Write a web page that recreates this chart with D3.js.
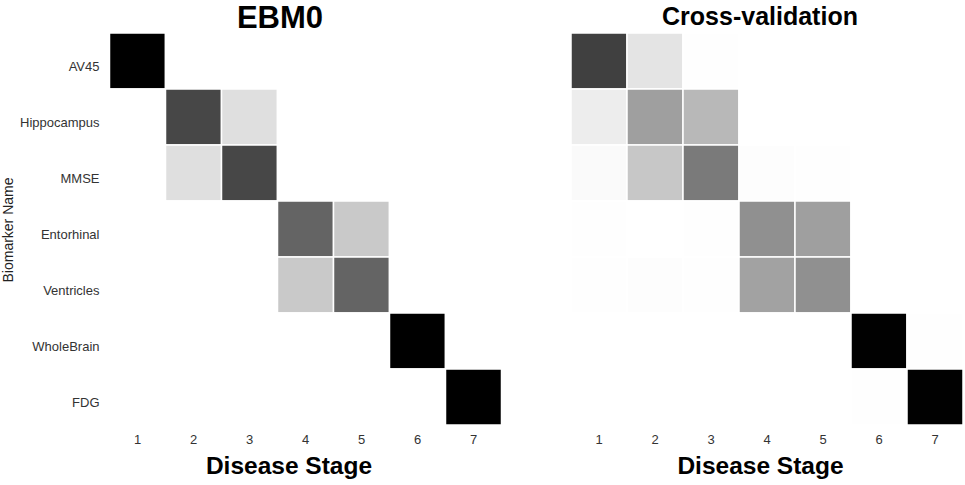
<!DOCTYPE html>
<html>
<head>
<meta charset="utf-8">
<script src="https://cdn.jsdelivr.net/npm/d3@7"></script>
<style>
  body { margin: 0; background: #fff; }
  svg { display: block; font-family: "Liberation Sans", Arial, sans-serif; }
</style>
</head>
<body>
<div id="chart"></div>
<script>
const biomarkers = ['AV45', 'Hippocampus', 'MMSE', 'Entorhinal', 'Ventricles', 'WholeBrain', 'FDG'];
const stages = [1, 2, 3, 4, 5, 6, 7];

// probability of each biomarker (row) being at each stage (column)
const ebm0 = [
  [1.00, 0, 0, 0, 0, 0, 0],
  [0, 0.78, 0.22, 0, 0, 0, 0],
  [0, 0.22, 0.78, 0, 0, 0, 0],
  [0, 0, 0, 0.68, 0.32, 0, 0],
  [0, 0, 0, 0.32, 0.68, 0, 0],
  [0, 0, 0, 0, 0, 1.00, 0],
  [0, 0, 0, 0, 0, 0, 1.00]
];

const crossVal = [
  [0.80, 0.19, 0.01, 0, 0, 0, 0],
  [0.14, 0.47, 0.39, 0, 0, 0, 0],
  [0.04, 0.33, 0.60, 0.02, 0.01, 0, 0],
  [0.005, 0.003, 0.01, 0.52, 0.47, 0, 0],
  [0.01, 0.015, 0.005, 0.46, 0.52, 0, 0],
  [0.004, 0, 0, 0, 0, 0.995, 0.008],
  [0.003, 0, 0, 0, 0, 0.008, 0.995]
];

const width = 965, height = 485;
const svg = d3.select('#chart').append('svg')
  .attr('width', width)
  .attr('height', height);

// matplotlib-like Greys ramp
const greys = d3.scaleLinear()
  .domain(d3.range(9).map(i => i / 8))
  .range(['#ffffff', '#f0f0f0', '#d9d9d9', '#bdbdbd', '#969696', '#737373', '#525252', '#252525', '#000000'])
  .clamp(true);

function drawPanel(x0, data, title, titleX, titleSize, titleY, xTitleX, showY) {
  const x = d3.scaleBand().domain(stages).range([x0, x0 + 392]);
  const y = d3.scaleBand().domain(biomarkers).range([33, 425]);
  const g = svg.append('g');

  const cells = [];
  data.forEach((row, i) => row.forEach((v, j) => cells.push({ b: biomarkers[i], s: stages[j], v })));

  g.selectAll('rect')
    .data(cells)
    .join('rect')
    .attr('x', d => x(d.s))
    .attr('y', d => y(d.b))
    .attr('width', x.bandwidth())
    .attr('height', y.bandwidth())
    .attr('fill', d => greys(d.v))
    .attr('stroke', '#fff')
    .attr('stroke-width', 1.5);

  // x tick labels
  g.selectAll('.xt')
    .data(stages)
    .join('text')
    .attr('class', 'xt')
    .attr('x', d => x(d) + x.bandwidth() / 2)
    .attr('y', 444)
    .attr('text-anchor', 'middle')
    .attr('font-size', 13)
    .attr('fill', '#333')
    .text(d => d);

  if (showY) {
    g.selectAll('.yt')
      .data(biomarkers)
      .join('text')
      .attr('class', 'yt')
      .attr('x', x0 - 10)
      .attr('y', d => y(d) + y.bandwidth() / 2 + 10)
      .attr('text-anchor', 'end')
      .attr('font-size', 13)
      .attr('fill', '#333')
      .text(d => d);

    g.append('text')
      .attr('transform', 'translate(13,230) rotate(-90)')
      .attr('text-anchor', 'middle')
      .attr('font-size', 14)
      .attr('fill', '#222')
      .text('Biomarker Name');
  }

  g.append('text')
    .attr('x', titleX)
    .attr('y', titleY)
    .attr('text-anchor', 'middle')
    .attr('font-size', titleSize)
    .attr('font-weight', 'bold')
    .attr('fill', '#000')
    .text(title);

  g.append('text')
    .attr('x', xTitleX)
    .attr('y', 474)
    .attr('text-anchor', 'middle')
    .attr('font-size', 24.5)
    .attr('font-weight', 'bold')
    .attr('fill', '#000')
    .text('Disease Stage');
}

drawPanel(109.5, ebm0, 'EBM0', 280, 31, 28, 289, true);
drawPanel(571, crossVal, 'Cross-validation', 760, 25, 25, 760.5, false);
</script>
</body>
</html>
